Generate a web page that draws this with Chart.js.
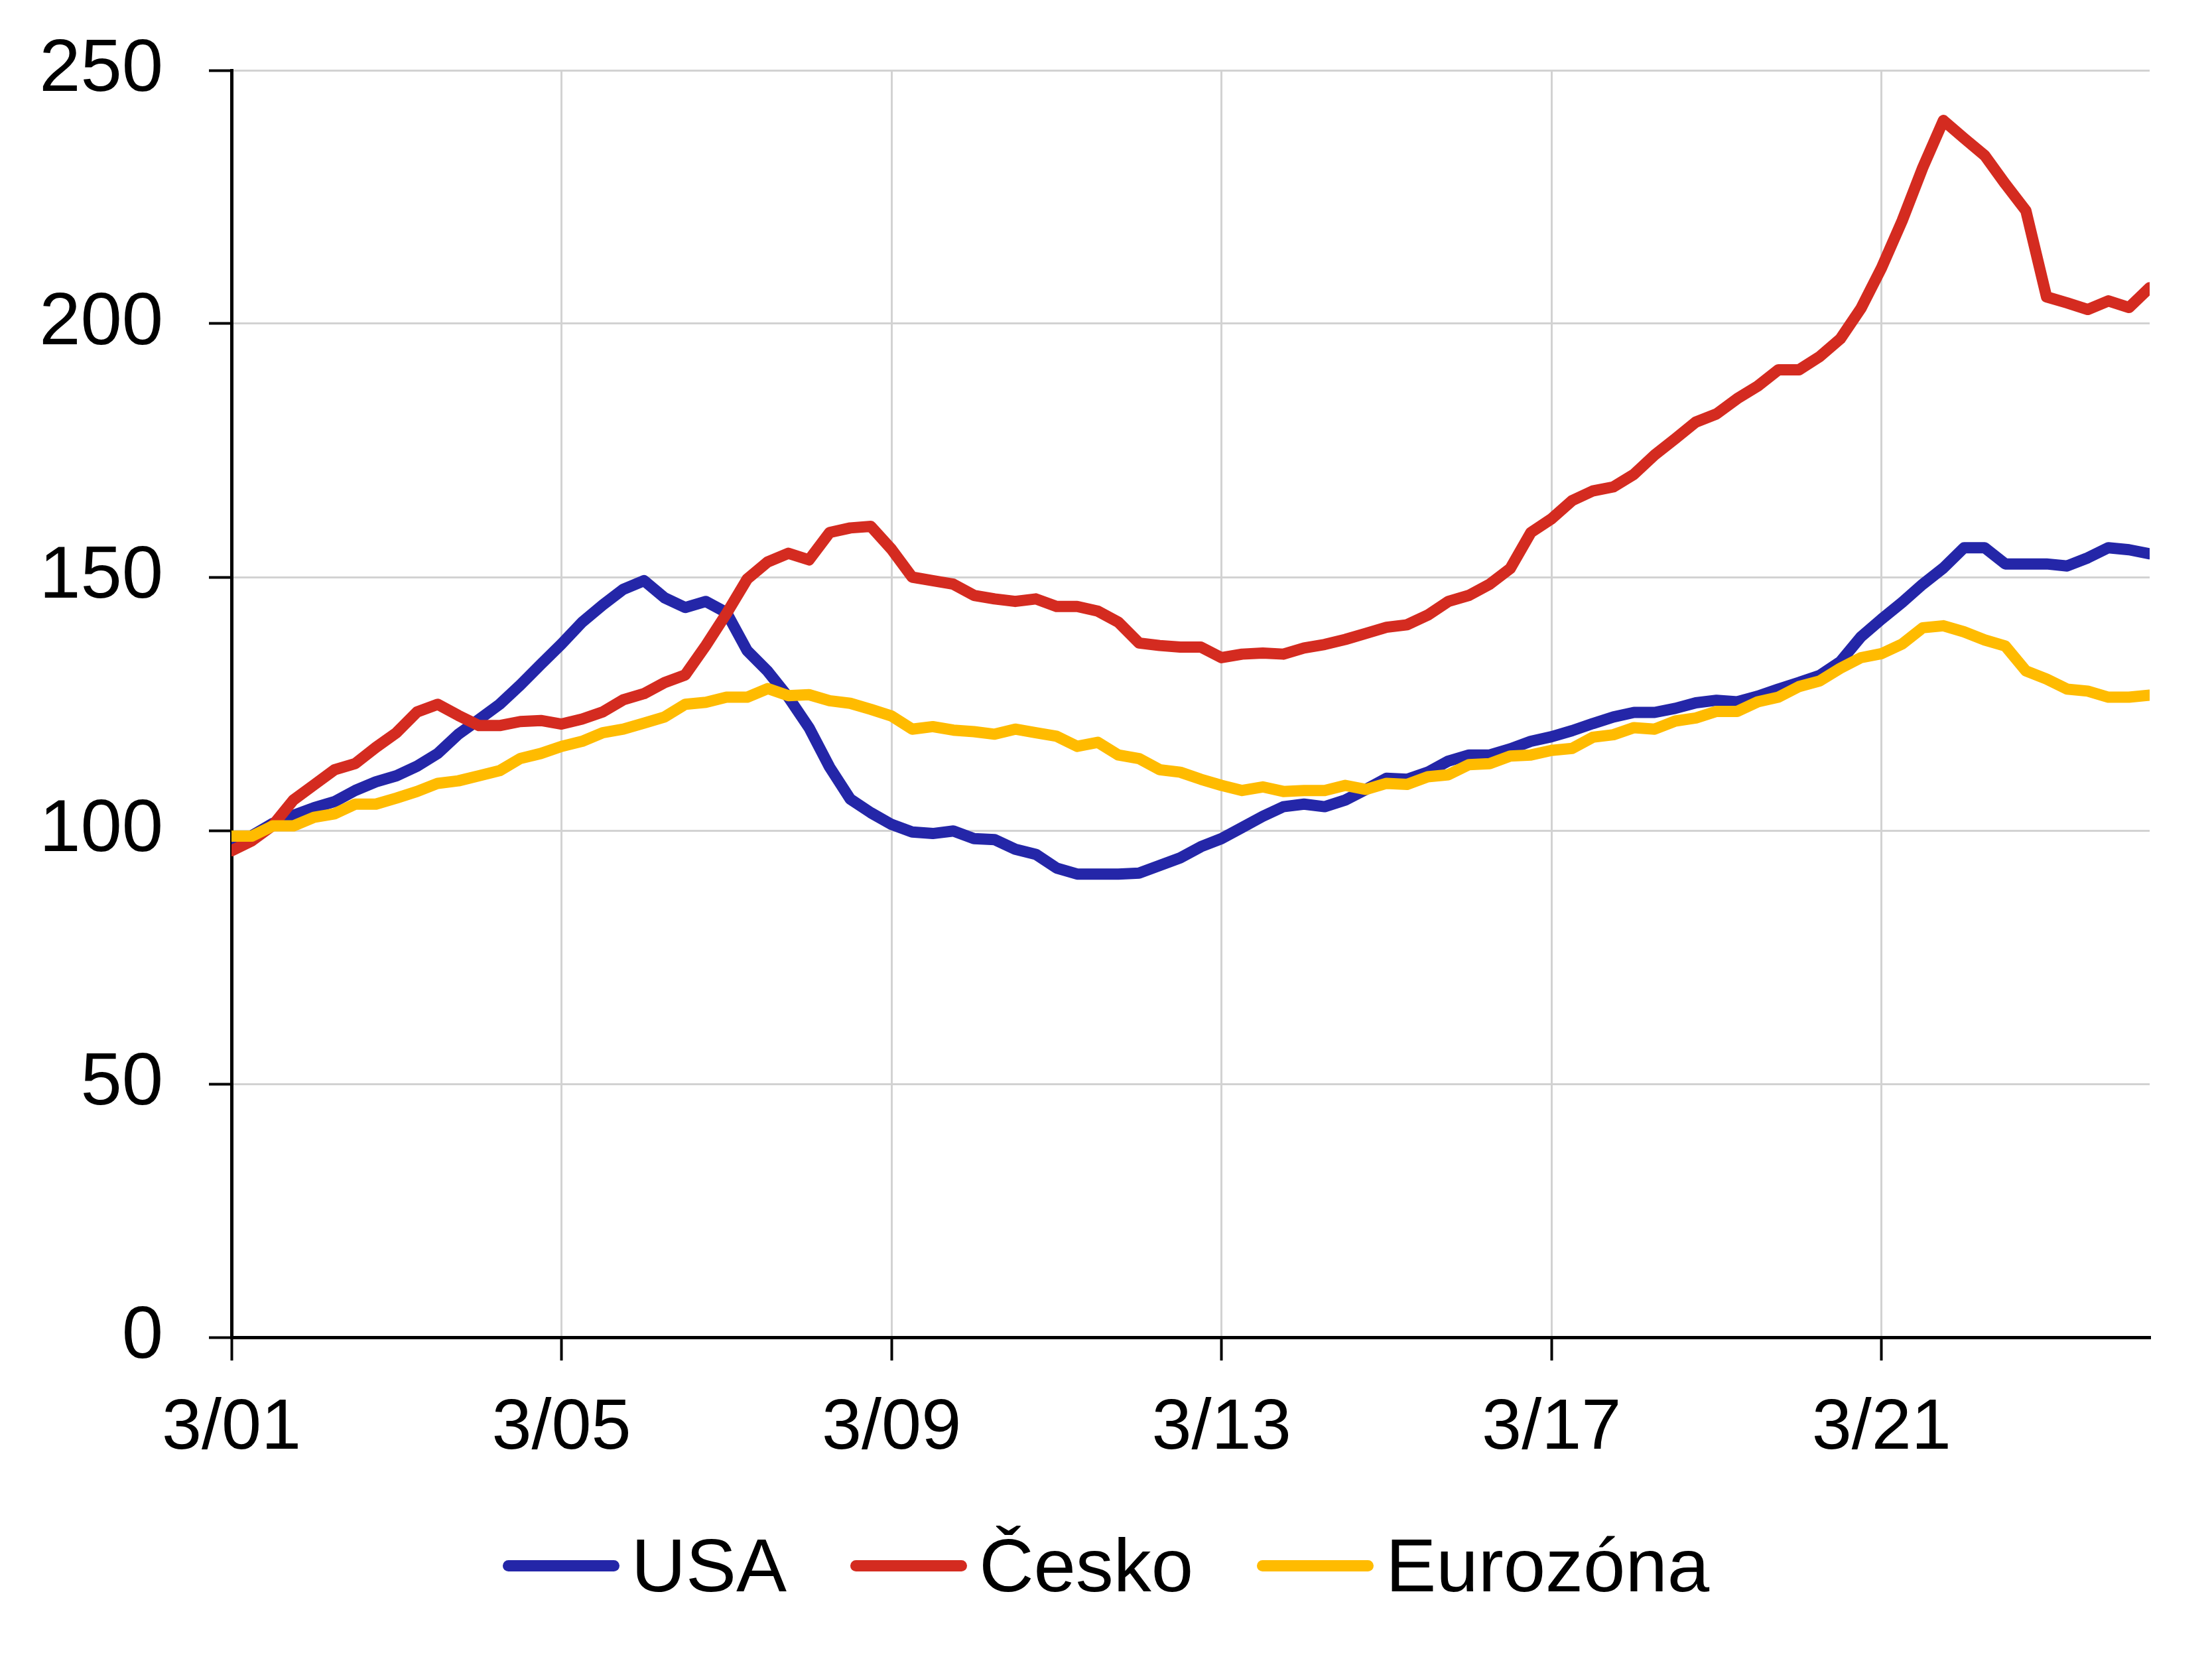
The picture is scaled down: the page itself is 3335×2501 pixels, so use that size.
<!DOCTYPE html>
<html lang="cs">
<head>
<meta charset="utf-8">
<title>USA, Česko, Eurozóna</title>
<script src="https://cdn.jsdelivr.net/npm/chart.js@4.4.1/dist/chart.umd.min.js"></script>
<style>
  html, body { margin: 0; padding: 0; background: #fff; }
  #wrap { position: relative; width: 3335px; height: 2501px; }
  #legend {
    position: absolute; left: 0; right: 0; top: 2303px; height: 114px;
    display: flex; justify-content: center; align-items: center;
    font-family: 'Liberation Sans', Arial, sans-serif; font-size: 114px; line-height: 1; color: #000;
  }
  .item { display: flex; align-items: center; margin: 0 48px; }
  .swatch { width: 176px; height: 17px; border-radius: 9px; margin-right: 18px; }
</style>
</head>
<body>
<div id="wrap">
  <canvas id="chart"></canvas>
  <div id="legend"></div>
</div>
<script>
// 4 hodnoty za den, od 3/01
const pointsPerDay = 4;
const tickLabels = ['3/01', '3/05', '3/09', '3/13', '3/17', '3/21'];
const seriesNames = ['USA', 'Česko', 'Eurozóna'];
const seriesColors = ['#2426a8', '#d42b20', '#ffbb00'];

const usa = [
  97.2, 99, 101.4, 103, 104.5, 105.7, 107.9, 109.6, 110.8, 112.7,
  115.2, 119, 121.9, 124.9, 128.7, 132.8, 136.8, 141.1, 144.5, 147.6,
  149.3, 145.9, 144, 145.2, 143, 135.5, 131.4, 126.3, 120.3, 112.5,
  106.2, 103.5, 101.2, 99.7, 99.4, 99.9, 98.4, 98.2, 96.3, 95.3,
  92.6, 91.4, 91.4, 91.4, 91.6, 93.1, 94.6, 96.8, 98.4, 100.6,
  102.8, 104.7, 105.2, 104.7, 106, 108.1, 110.3, 110.1, 111.5, 113.7,
  114.9, 114.9, 116.1, 117.6, 118.5, 119.7, 121.1, 122.4, 123.3, 123.3,
  124.1, 125.2, 125.7, 125.4, 126.5, 127.9, 129.2, 130.6, 133.3, 138.2,
  141.7, 145, 148.6, 151.8, 155.8, 155.8, 152.6, 152.6, 152.6, 152.2,
  153.8, 155.8, 155.4, 154.6
];

const cesko = [
  96, 98, 101, 106, 109, 112, 113.2, 116.4, 119.3, 123.4,
  124.9, 122.7, 120.7, 120.7, 121.5, 121.7, 121, 122, 123.4, 125.8,
  127, 129.2, 130.7, 136.5, 142.8, 149.6, 153, 154.7, 153.4, 158.8,
  159.7, 160, 155.5, 150, 149.3, 148.6, 146.4, 145.7, 145.2, 145.7,
  144.2, 144.2, 143.3, 141.1, 137, 136.5, 136.2, 136.2, 134.1, 134.8,
  135, 134.8, 136, 136.7, 137.7, 138.9, 140.1, 140.6, 142.5, 145.2,
  146.4, 148.6, 151.7, 158.8, 161.5, 165.1, 167, 167.8, 170.3, 174.1,
  177.3, 180.6, 182.2, 185.2, 187.7, 190.9, 190.9, 193.5, 197, 203,
  211, 220.3, 230.8, 240.1, 236.6, 233.2, 227.6, 222.3, 205.3, 204.1,
  202.8, 204.5, 203.2, 207.1
];

const eurozona = [
  98.9, 98.9, 100.9, 100.9, 102.6, 103.3, 105.2, 105.2, 106.4, 107.7,
  109.3, 109.8, 110.8, 111.8, 114.2, 115.2, 116.6, 117.6, 119.3, 120,
  121.2, 122.4, 124.9, 125.3, 126.3, 126.3, 128, 126.6, 126.8, 125.6,
  125.1, 123.9, 122.6, 120, 120.5, 119.8, 119.5, 119, 120, 119.3,
  118.6, 116.6, 117.4, 114.9, 114.2, 112, 111.5, 110.1, 108.9, 107.9,
  108.6, 107.7, 107.9, 107.9, 108.9, 108.1, 109.3, 109.1, 110.6, 111,
  113, 113.2, 114.7, 114.9, 115.8, 116.2, 118.4, 118.9, 120.3, 120,
  121.6, 122.2, 123.5, 123.5, 125.4, 126.3, 128.4, 129.5, 132, 134.1,
  134.9, 136.8, 140, 140.4, 139.2, 137.6, 136.4, 131.5, 129.9, 127.9,
  127.5, 126.3, 126.3, 126.7
];

const FONT = "'Liberation Sans', Arial, sans-serif";

function toPoints(values) {
  return values.map((v, i) => ({ x: i / pointsPerDay, y: v }));
}

function buildLegend() {
  const box = document.getElementById('legend');
  seriesNames.forEach((name, i) => {
    const item = document.createElement('div');
    item.className = 'item';
    item.innerHTML = `<span class="swatch" style="background:${seriesColors[i]}"></span><span>${name}</span>`;
    box.appendChild(item);
  });
}

function init() {
  const canvas = document.getElementById('chart');
  canvas.width = 3335;
  canvas.height = 2501;

  const series = [usa, cesko, eurozona];
  const datasets = series.map((vals, i) => ({
    label: seriesNames[i],
    data: toPoints(vals),
    borderColor: seriesColors[i],
    backgroundColor: seriesColors[i],
    borderWidth: 17,
    borderCapStyle: 'round',
    borderJoinStyle: 'round',
    pointRadius: 0,
    tension: 0,
    order: 3 - i   // žlutá nahoře, modrá vespod
  }));

  new Chart(canvas, {
    type: 'line',
    data: { datasets },
    options: {
      responsive: false,
      animation: false,
      events: [],
      layout: { padding: { top: 106, right: 94, bottom: 0, left: 0 } },
      plugins: { legend: { display: false }, tooltip: { enabled: false } },
      scales: {
        x: {
          type: 'linear',
          min: 0,
          max: (usa.length - 1) / pointsPerDay,
          afterFit: (s) => { s.height = 485; s.paddingLeft = 0; s.paddingRight = 0; },
          border: { display: true, color: '#000', width: 5 },
          grid: { color: '#d2d2d2', lineWidth: 3, tickColor: '#000', tickWidth: 4, tickLength: 35 },
          ticks: {
            stepSize: 4,
            includeBounds: false,
            autoSkip: false,
            maxRotation: 0,
            padding: 38,
            color: '#000',
            font: { family: FONT, size: 108 },
            callback: (v) => tickLabels[v / 4] ?? ''
          }
        },
        y: {
          min: 0,
          max: 250,
          // kraje grafu určuje layout.padding, ne popisky
          afterFit: (s) => { s.width = 349; s.paddingTop = 0; s.paddingBottom = 0; },
          border: { display: true, color: '#000', width: 5 },
          grid: { color: '#d2d2d2', lineWidth: 3, tickColor: '#000', tickWidth: 4, tickLength: 34 },
          ticks: {
            stepSize: 50,
            padding: 69,
            color: '#000',
            font: { family: FONT, size: 112 }
          }
        }
      }
    }
  });

  buildLegend();
}

document.addEventListener('DOMContentLoaded', init);
</script>
</body>
</html>
